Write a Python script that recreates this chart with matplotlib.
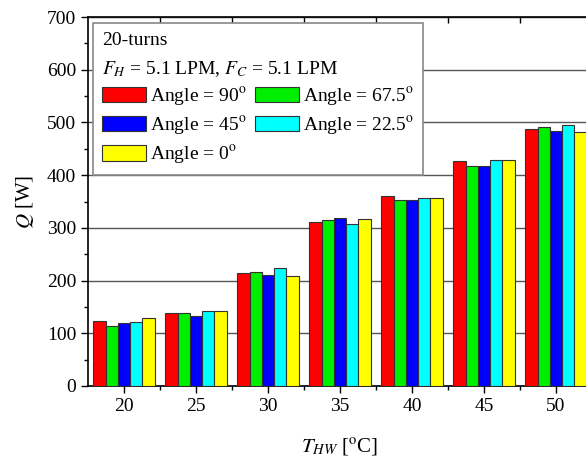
import numpy as np
import matplotlib
matplotlib.use("Agg")
import matplotlib.pyplot as plt
from matplotlib.ticker import MultipleLocator, FixedLocator

plt.rcParams['font.family'] = ['Liberation Serif', 'DejaVu Serif']
plt.rcParams['mathtext.fontset'] = 'stix'

# donnees
temps = [20, 25, 30, 35, 40, 45, 50]
angles = ["90", "67.5", "45", "22.5", "0"]
q_90 = [124, 138, 215, 312, 361, 427, 488]
q_675 = [114, 139, 217, 314, 353, 418, 491]
q_45 = [120, 133, 211, 319, 353, 417, 484]
q_225 = [122, 142, 224, 307, 356, 429, 495]
q_0 = [129, 142, 209, 316, 356, 429, 481]
series = [q_90, q_675, q_45, q_225, q_0]
colors = ['#ff0000', '#00ee00', '#0000ff', '#00ffff', '#ffff00']

fig = plt.figure(figsize=(5.86, 4.65), dpi=100)
ax = fig.add_axes([0.1502, 0.1699, 0.8600, 0.7935])

x = np.arange(len(temps))
w = 0.17
bars = []
for i, (vals, c) in enumerate(zip(series, colors)):
    b = ax.bar(x + (i - 2) * w, vals, width=w, color=c, edgecolor='#333333',
               linewidth=0.8, zorder=3, label="Angle = " + angles[i] + r"$^\mathrm{o}$")
    bars.append(b)

ax.set_xlim(-0.5, len(temps) - 0.5)
ax.set_ylim(0, 700)
ax.set_xticks(x)
ax.set_xticklabels([str(t) for t in temps])
ax.xaxis.set_minor_locator(FixedLocator(x[:-1] + 0.5))
ax.yaxis.set_major_locator(MultipleLocator(100))
ax.yaxis.set_minor_locator(MultipleLocator(50))
ax.tick_params(axis='both', which='major', direction='out', length=5, width=1, labelsize=14)
ax.tick_params(axis='both', which='minor', direction='out', length=3, width=1)
ax.grid(axis='y', which='major', color='#555555', linewidth=1, zorder=0)
for s in ax.spines.values():
    s.set_linewidth(1.2)

top = ax.secondary_xaxis('top')
top.set_xticks(x[:-1] + 0.5)
top.tick_params(direction='in', length=4, width=1, labeltop=False)
top.set_xticklabels([])

ax.set_ylabel(r"$Q$ [W]", fontsize=15, labelpad=8)
ax.set_xlabel(r"$T_{HW}$ [$^\mathrm{o}$C]", fontsize=15, labelpad=16)

# ordre des colonnes de la legende
order = [0, 2, 4, 1, 3]
handles = [bars[k] for k in order]
labels = [bars[k].get_label() for k in order]
leg = ax.legend(handles, labels, ncol=2, loc='upper left',
                bbox_to_anchor=(0.01, 0.984), borderaxespad=0,
                title="20-turns\n" + r"$F_H$ = 5.1 LPM, $F_C$ = 5.1 LPM",
                title_fontsize=14, fontsize=14, alignment='left',
                fancybox=False, framealpha=1, edgecolor='#888888',
                handlelength=2.25, handleheight=0.85, handletextpad=0.25,
                columnspacing=0.4, labelspacing=0.32, borderpad=0.45)
leg.get_title().set_linespacing(1.7)
leg.get_frame().set_linewidth(1.2)
leg.set_zorder(5)

fig.savefig("out.png", dpi=100)
